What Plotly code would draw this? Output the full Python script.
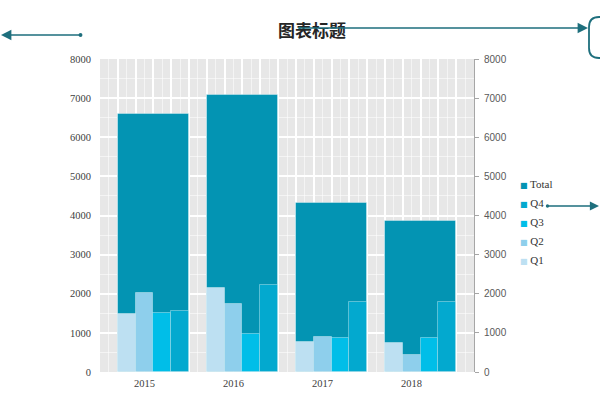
import plotly.graph_objects as go

# ---------------- data ----------------
years = ["2015", "2016", "2017", "2018"]
q1 = [1480, 2145, 761, 752]
q2 = [2020, 1744, 906, 436]
q3 = [1520, 966, 880, 880]
q4 = [1560, 2214, 1778, 1778]
total = [6600, 7070, 4330, 3850]
y_ticks = list(range(0, 8001, 1000))
title_text = "图表标题"
legend_names = ["Total", "Q4", "Q3", "Q2", "Q1"]

# ---------------- styles ----------------
colors = {"Total": "#0394B3", "Q4": "#03A9CF", "Q3": "#00BEE8",
          "Q2": "#8ECFEC", "Q1": "#BDE0F2"}
SLOTS = 5          # per year: 4 quarter bars + 1 gap slot
n_slots = SLOTS * len(years) + 1
centers = [i * SLOTS + 3 for i in range(len(years))]

L, R, T, B = 100, 126, 59, 28
W, H = 600, 400
pw, ph = W - L - R, H - T - B


def px(x):
    return (x - L) / pw


def py(y):
    return (H - B - y) / ph


fig = go.Figure()

outline = dict(color="rgba(255,255,255,0.35)", width=1)
fig.add_trace(go.Bar(x=centers, y=total, width=SLOTS - 1, name="Total",
                     marker=dict(color=colors["Total"], line=outline),
                     showlegend=False))
for k, (nm, vals) in enumerate([("Q1", q1), ("Q2", q2), ("Q3", q3), ("Q4", q4)]):
    fig.add_trace(go.Bar(x=[c - 1.5 + k for c in centers], y=vals, width=1, name=nm,
                         marker=dict(color=colors[nm], line=outline),
                         showlegend=False))

# legend entries: small coloured square glyph tight against the name
for nm in legend_names:
    fig.add_trace(go.Scatter(
        x=[None], y=[None], mode="markers",
        name=f'<span style="color:{colors[nm]};font-family:DejaVu Sans;font-size:8px">■</span> {nm}',
        marker=dict(symbol="square", size=1, color="rgba(0,0,0,0)"),
        yaxis="y2"))

tickvals = list(range(0, n_slots + 1))
ticktext = [years[centers.index(v)] if v in centers else "" for v in tickvals]

fig.update_layout(
    width=W, height=H, autosize=False,
    margin=dict(l=L, r=R, t=T, b=B, pad=0),
    paper_bgcolor="white", plot_bgcolor="#E7E7E7",
    barmode="overlay", bargap=0,
    title=dict(text=title_text, x=312 / W, xanchor="center", y=1 - 31 / H,
               yanchor="middle", xref="container", yref="container",
               font=dict(family="Noto Sans CJK SC", size=17, color="#262626",
                         weight="bold")),
    xaxis=dict(range=[0, n_slots], tickmode="array", tickvals=tickvals,
               ticktext=ticktext, ticklabelshift=-9, ticklabelstandoff=3,
               showgrid=True, gridcolor="white", gridwidth=1.5,
               minor=dict(dtick=0.5, tick0=0, showgrid=True,
                          gridcolor="rgba(255,255,255,0.55)", gridwidth=1),
               zeroline=False, showline=False, ticks="",
               tickfont=dict(family="Liberation Serif", size=10.5, color="#404040"),
               fixedrange=True),
    yaxis=dict(range=[0, 8000], tickmode="array", tickvals=y_ticks,
               showgrid=True, gridcolor="white", gridwidth=1.5,
               minor=dict(dtick=500, tick0=0, showgrid=True,
                          gridcolor="rgba(255,255,255,0.55)", gridwidth=1),
               zeroline=False, showline=False, ticks="",
               ticklabelstandoff=8,
               tickfont=dict(family="Liberation Serif", size=10.5, color="#404040")),
    yaxis2=dict(range=[0, 8000], tickmode="array", tickvals=y_ticks,
                overlaying="y", side="right", showgrid=False, zeroline=False,
                showline=True, linecolor="#A6A6A6", linewidth=1,
                ticks="outside", ticklen=4, tickcolor="#A6A6A6",
                ticklabelstandoff=3,
                tickfont=dict(family="Liberation Sans", size=10, color="#595959")),
    legend=dict(x=px(480), xanchor="left", y=py(169), yanchor="top",
                traceorder="normal", bgcolor="rgba(0,0,0,0)",
                font=dict(family="Liberation Serif", size=11, color="#333333"),
                itemwidth=30, tracegroupgap=0, itemclick=False,
                itemdoubleclick=False),
)

arrow_col = "#1E6F7D"
# left arrow
fig.add_annotation(x=px(1), y=py(35), xref="paper", yref="paper", text="",
                   showarrow=True, ax=81, ay=0, arrowside="end+start",
                   arrowhead=2, arrowsize=1.3, startarrowhead=6, startarrowsize=0.6,
                   arrowwidth=1.6, arrowcolor=arrow_col)
# title arrow
fig.add_annotation(x=px(588), y=py(28), xref="paper", yref="paper", text="",
                   showarrow=True, ax=298 - 588, ay=0, arrowside="end+start",
                   arrowhead=2, arrowsize=1.3, startarrowhead=6, startarrowsize=0.4,
                   arrowwidth=1.6, arrowcolor=arrow_col)
# legend arrow
fig.add_annotation(x=px(630), y=py(206), xref="paper", yref="paper", text="",
                   showarrow=True, ax=546 - 630, ay=0, arrowside="end+start",
                   arrowhead=2, arrowsize=1.3, startarrowhead=6, startarrowsize=0.6,
                   arrowwidth=1.4, arrowcolor=arrow_col)

# rounded box at top right (partly off canvas)
x0, x1, y0, y1, r = 589, 660, 17, 58, 10
path = (f"M {px(x1)},{py(y0)} L {px(x0 + r)},{py(y0)} "
        f"Q {px(x0)},{py(y0)} {px(x0)},{py(y0 + r)} "
        f"L {px(x0)},{py(y1 - r)} Q {px(x0)},{py(y1)} {px(x0 + r)},{py(y1)} "
        f"L {px(x1)},{py(y1)}")
fig.add_shape(type="path", path=path, xref="paper", yref="paper",
              line=dict(color=arrow_col, width=1.8))

fig.write_html("out.html")
